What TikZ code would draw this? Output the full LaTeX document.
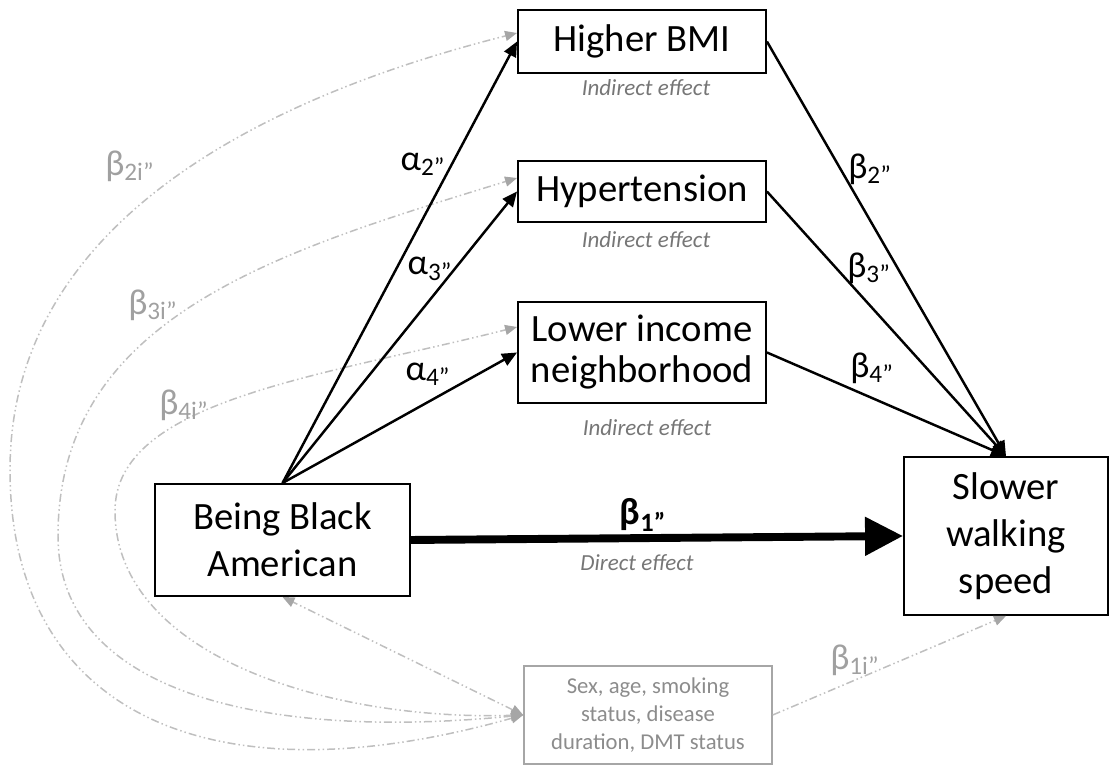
\documentclass[tikz,border=0pt]{standalone}
\usepackage{fontspec}
\setmainfont{Carlito}
\usetikzlibrary{positioning,arrows.meta}
\definecolor{tipgray}{HTML}{A6A6A6}
\definecolor{linegray}{HTML}{BFBFBF}
\definecolor{labgray}{HTML}{A0A0A0}
\definecolor{notegray}{HTML}{767676}
\definecolor{covgray}{HTML}{8C8C8C}

\begin{document}
\begin{tikzpicture}[x=0.02cm, y=0.02cm,
  box/.style={draw, line width=1.1pt, align=center, inner sep=0pt, font=\fontsize{22}{26.7}\selectfont},
  covbox/.style={draw=tipgray, line width=0.9pt, align=center, inner sep=0pt, text=covgray, font=\fontsize{12.9}{15.9}\selectfont},
  effect/.style={line width=1.4pt, -{Triangle[length=0.3cm, width=0.26cm]}},
  direct/.style={line width=4.5pt, -{Triangle[length=0.76cm, width=0.74cm]}},
  covar/.style={draw=linegray, line width=0.85pt, dash pattern=on 0.16cm off 0.06cm on 0.03cm off 0.06cm on 0.03cm off 0.06cm,
    >={Triangle[length=0.24cm, width=0.2cm, color=tipgray]}},
  coef/.style={font=\fontsize{20.5}{24}\selectfont},
  gcoef/.style={coef, text=labgray},
  note/.style={font=\fontsize{13.1}{15}\selectfont\itshape, text=notegray}]
\useasboundingbox (0,0) rectangle (1110,766);

\def\xm{642}
\def\ya{724.5}
\def\yb{574.5}
\def\yc{413.5}

\node[box, minimum width=4.96cm, minimum height=1.26cm] (bmi) at (\xm, \ya) {Higher BMI};
\node[box, minimum width=4.96cm, minimum height=1.22cm] (hyp) at (\xm, \yb) {Hypertension};
\node[box, minimum width=4.96cm, minimum height=2.02cm, font=\fontsize{22}{23.3}\selectfont] (low) at (\xm, \yc) {Lower income\\neighborhood};
\node[box, minimum width=5.1cm, minimum height=2.24cm] (black) at (282.5, 226) {Being Black\\American};
\node[box, minimum width=4.08cm, minimum height=3.16cm] (slow) at (1006, 230) {Slower\\walking\\speed};
\node[covbox, minimum width=4.96cm, minimum height=1.96cm] (cov) at (648, 51) {Sex, age, smoking\\status, disease\\duration, DMT status};

\node[note] (nbmi) at (646, 678) {Indirect effect};
\node[note] (nhyp) at (646, 526) {Indirect effect};
\node[note] (nlow) at (647, 338) {Indirect effect};
\node[note] (ndir) at (637, 203) {Direct effect};

\coordinate (gbmi) at ([yshift=0.17cm]bmi.west);
\coordinate (ghyp) at ([yshift=0.27cm]hyp.west);
\coordinate (glow) at ([yshift=0.51cm]low.west);

\draw[covar, <->] (cov.west) .. controls (200,-40) and (10,60) .. (10,296)
  .. controls (10,546) and (268,670) .. (gbmi);
\draw[covar, <->] (cov.west) .. controls (260,25) and (58,75) .. (58,230)
  .. controls (58,450) and (280,515) .. (ghyp);
\draw[covar, <->] (cov.west) .. controls (330,45) and (115,110) .. (115,255)
  .. controls (115,365) and (318,389) .. (glow);
\draw[covar, <->] (cov.west) -- (black.south);
\draw[covar, ->] (cov.east) -- (slow.south);

\draw[effect] (black.north) -- (bmi.west);
\draw[effect] (black.north) -- (hyp.west);
\draw[effect] (black.north) -- (low.west);
\draw[effect] (bmi.east) -- (slow.north);
\draw[effect] (hyp.east) -- (slow.north);
\draw[effect] (low.east) -- (slow.north);
\draw[direct] (black.east) -- (slow.west);

\node[coef] (a2) at (423, 602) {α\textsubscript{2”}};
\node[coef] (a3) at (430, 497) {α\textsubscript{3”}};
\node[coef] (a4) at (428, 392) {α\textsubscript{4”}};
\node[coef] (b2) at (870, 597) {β\textsubscript{2”}};
\node[coef] (b3) at (869, 498) {β\textsubscript{3”}};
\node[coef] (b4) at (872, 398) {β\textsubscript{4”}};
\node[coef, font=\fontsize{21.5}{24}\selectfont\bfseries] (b1) at (643, 251) {β\textsubscript{1”}};
\node[gcoef] (b2i) at (130, 600) {β\textsubscript{2i”}};
\node[gcoef] (b3i) at (153, 461) {β\textsubscript{3i”}};
\node[gcoef] (b4i) at (184, 361) {β\textsubscript{4i”}};
\node[gcoef] (b1i) at (855, 106) {β\textsubscript{1i”}};

\end{tikzpicture}
\end{document}
